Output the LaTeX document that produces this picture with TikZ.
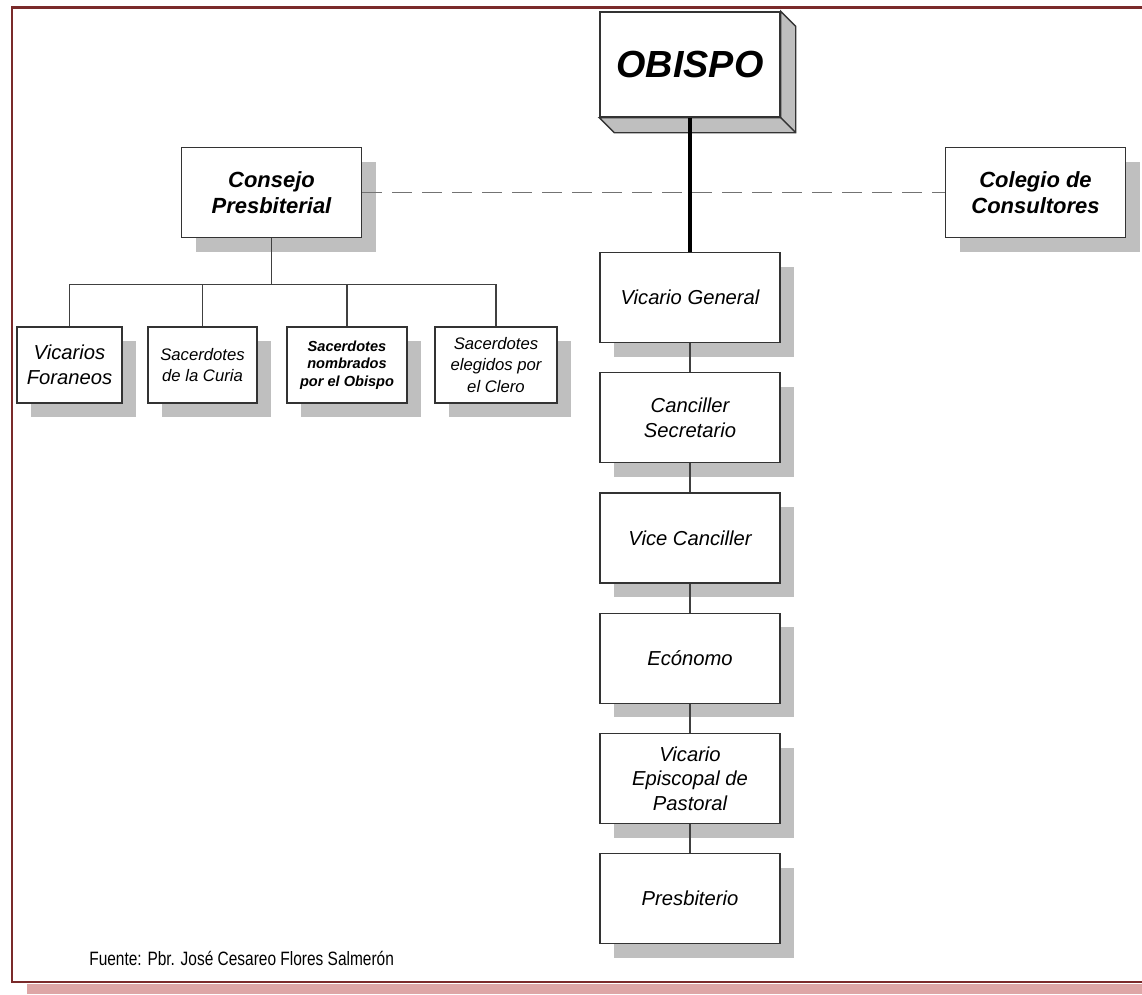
\documentclass[tikz,border=0pt]{standalone}
\usepackage{fontspec}
\setmainfont{Liberation Sans}
\newfontfamily\narrowfont[FakeStretch=0.8]{Liberation Sans}
\usetikzlibrary{shadows}
\definecolor{marco}{HTML}{7A2A2A}
\definecolor{sombra}{HTML}{DDA6A6}
\newcommand{\fs}[2]{\fontsize{#1}{#2}\selectfont}
\tikzset{
  cargo/.style={draw=black!80, line width=0.8pt, fill=white, align=center,
    font=\itshape\fs{11.5}{14}, minimum width=3.6cm, minimum height=1.8cm, inner sep=2pt,
    general shadow={fill=black!25, shadow xshift=0.28cm, shadow yshift=-0.28cm}},
  cargob/.style={cargo, font=\bfseries\itshape\fs{12.5}{15}},
  vocal/.style={cargo, minimum height=1.52cm},
  linea/.style={draw=black!75, line width=0.8pt},
}

\begin{document}
\begin{tikzpicture}
    \useasboundingbox (0,0) rectangle (22.84,-19.88);
    % marco
    \fill[sombra] (0.54,-19.68) rectangle (22.84,-19.88);
    \draw[marco, line width=1.5pt] (22.84,-0.15) -- (0.24,-0.15) -- (0.24,-19.64) -- (22.84,-19.64);

    % obispo y columna central
    \node[draw=black!80, line width=0.8pt, fill=white, minimum width=3.6cm, minimum height=2.1cm,
        font=\bfseries\itshape\fs{21.5}{24}] (obispo) at (13.8,-1.29) {OBISPO};
    \foreach \n/\t [count=\i from 0] in {vg/Vicario General, cs/{Canciller\\Secretario},
        vc/Vice Canciller, ec/Ecónomo, ve/{Vicario\\Episcopal de\\Pastoral}, pb/Presbiterio}{
        \node[cargo] (\n) at (13.8,-5.95-2.405*\i) {\t};
    }

    % consejo y colegio
    \node[cargob] (consejo) at (5.43,-3.85) {Consejo\\Presbiterial};
    \node[cargob] (colegio) at (20.71,-3.85) {Colegio de\\Consultores};
    \node[vocal, minimum width=2.1cm] (vf) at (1.39,-7.3) {Vicarios\\Foraneos};
    \node[vocal, minimum width=2.18cm, font=\itshape\fs{9.5}{12.3}] (sc) at (4.05,-7.3) {Sacerdotes\\de la Curia};
    \node[vocal, minimum width=2.4cm, font=\bfseries\itshape\fs{8.3}{10}] (sn) at (6.94,-7.3) {Sacerdotes\\nombrados\\por el Obispo};
    \node[vocal, minimum width=2.44cm, font=\itshape\fs{9.5}{12}] (se) at (9.92,-7.3) {Sacerdotes\\elegidos por\\el Clero};

    \draw[black!55, line width=1.1pt, dash pattern=on 0.4cm off 0.2cm] (consejo) -- (colegio);
    \foreach \n in {vf,sc,sn,se}{
        \draw[linea] (consejo.south) -- ++(0,-0.92) -| (\n.north);
    }
    \foreach \a/\b in {vg/cs, cs/vc, vc/ec, ec/ve, ve/pb}{
        \draw[linea] (\a) -- (\b);
    }

    % caja 3D
    \filldraw[fill=black!25, draw=black!80, line width=0.8pt] (obispo.north east) -- ++(0.3,-0.3)
        -- ([shift={(0.3,-0.3)}]obispo.south east) -- ([shift={(0.3,-0.3)}]obispo.south west)
        -- (obispo.south west) -- (obispo.south east) -- cycle;
    \draw[black!80, line width=0.8pt] (obispo.south east) -- ++(0.3,-0.3);
    \draw[line width=2.8pt] (obispo.south) -- (vg.north);

    \node[anchor=west, inner sep=0pt, font=\narrowfont\fs{11}{13}] (fuente) at (1.78,-19.16)
        {Fuente: Pbr. José Cesareo Flores Salmerón};
\end{tikzpicture}
\end{document}
